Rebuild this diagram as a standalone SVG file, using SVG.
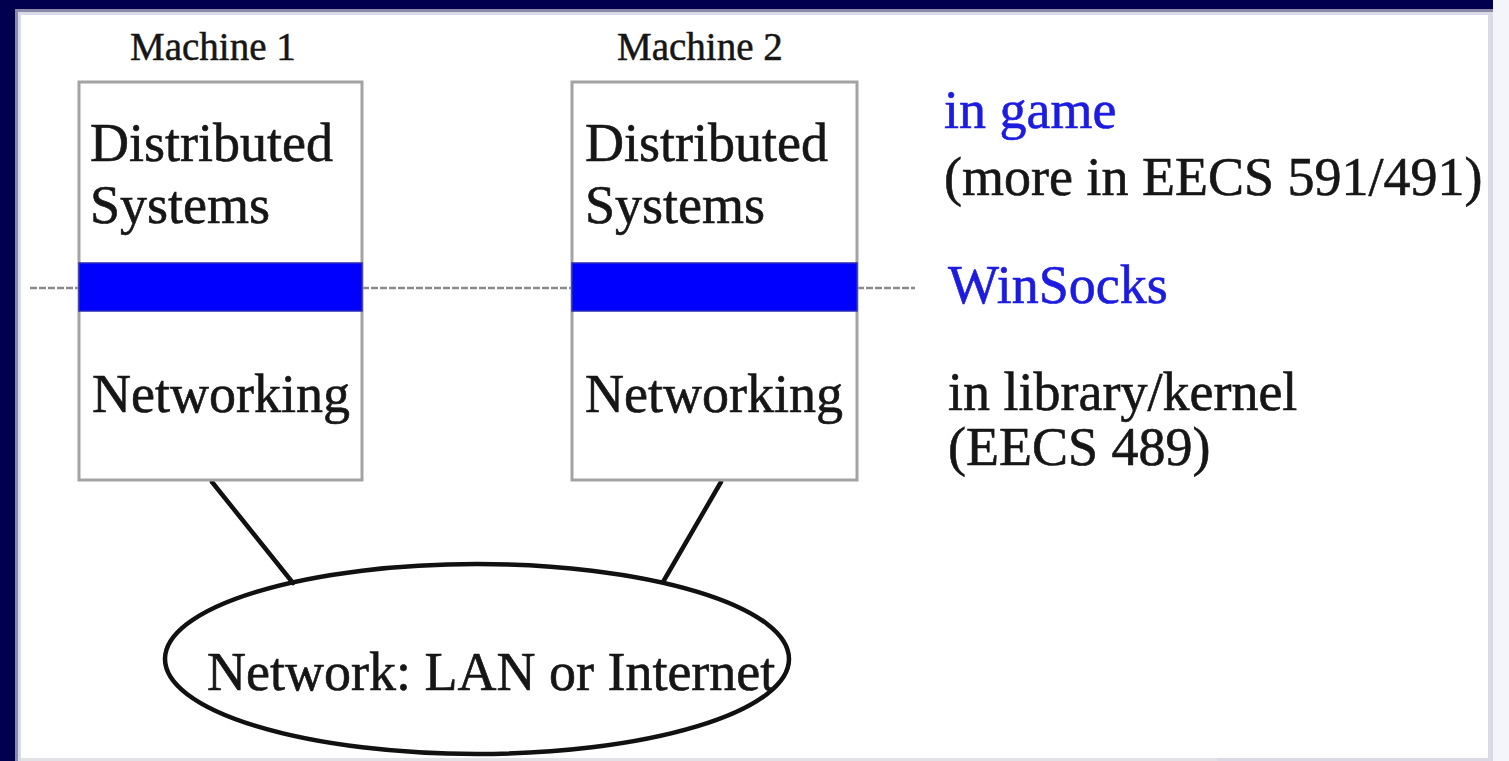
<svg xmlns="http://www.w3.org/2000/svg" width="1509" height="761" viewBox="0 0 1509 761">
  <style>
    .t { font-family: "Liberation Serif", "Times New Roman", serif; fill: #161616; stroke: #161616; stroke-width: 0.6; }
    .big { font-size: 54px; }
    .small { font-size: 39px; stroke-width: 0.5; }
    .blue { fill: #1c1ce0; stroke: #1c1ce0; }
    .box { fill: #ffffff; stroke: #a3a3a3; stroke-width: 3; }
    .band { fill: #0000ff; stroke: #2a2ab8; stroke-width: 1.5; }
    .dash { stroke: #8a8a8a; stroke-width: 2.5; stroke-dasharray: 7 2; fill: none; }
    .link { stroke: #111111; stroke-width: 4.5; fill: none; stroke-linecap: round; }
  </style>

  <!-- background frame -->
  <rect x="0" y="0" width="1509" height="761" fill="#00004f"/>
  <rect x="1493" y="0" width="16" height="761" fill="#f4f4fb"/>
  <rect x="15" y="9" width="1478" height="752" fill="#8a8aa8"/>
  <rect x="18" y="12" width="1475" height="749" fill="#dadae6"/>
  <rect x="21" y="15" width="1467" height="743" fill="#ffffff"/>
  <rect x="21" y="758" width="1196" height="3" fill="#e2e2e6"/>

  <!-- connectors -->
  <g id="connectors">
    <line class="dash" x1="30" y1="288" x2="79" y2="288"/>
    <line class="dash" x1="362" y1="288" x2="572" y2="288"/>
    <line class="dash" x1="857" y1="288" x2="915" y2="288"/>
    <line class="link" x1="212" y1="482" x2="293" y2="583"/>
    <line class="link" x1="721" y1="482" x2="663" y2="582"/>
  </g>

  <g id="machine1">
    <text class="t small" x="130" y="60">Machine 1</text>
    <rect class="box" x="79" y="82" width="283" height="398"/>
    <rect class="band" x="79" y="263" width="283" height="48"/>
    <text class="t big" x="90" y="161">Distributed</text>
    <text class="t big" x="90" y="223">Systems</text>
    <text class="t big" x="92" y="412">Networking</text>
  </g>

  <g id="machine2">
    <text class="t small" x="617" y="60">Machine 2</text>
    <rect class="box" x="572" y="82" width="285" height="398"/>
    <rect class="band" x="572" y="263" width="285" height="48"/>
    <text class="t big" x="585" y="161">Distributed</text>
    <text class="t big" x="585" y="223">Systems</text>
    <text class="t big" x="585" y="412">Networking</text>
  </g>

  <g id="network">
    <ellipse cx="477" cy="659" rx="312" ry="95" fill="none" stroke="#111111" stroke-width="4.5"/>
    <text class="t big" x="207" y="690">Network: LAN or Internet</text>
  </g>

  <g id="labels">
    <text class="t big blue" x="944" y="128">in game</text>
    <text class="t big" x="944" y="195">(more in EECS 591/491)</text>
    <text class="t big blue" x="948" y="303">WinSocks</text>
    <text class="t big" x="948" y="410">in library/kernel</text>
    <text class="t big" x="948" y="465">(EECS 489)</text>
  </g>
</svg>
